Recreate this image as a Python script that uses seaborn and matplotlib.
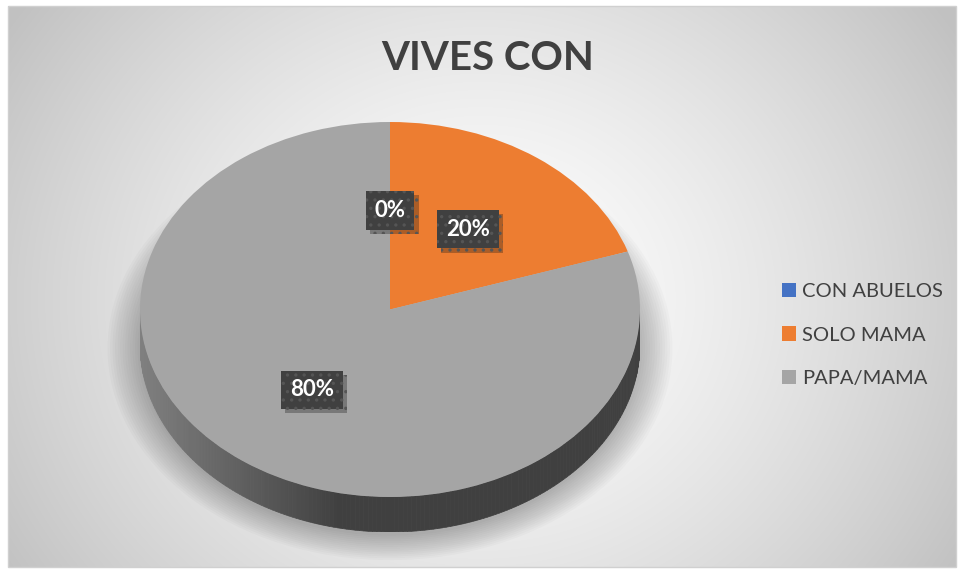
import matplotlib
matplotlib.use("Agg")
import matplotlib.pyplot as plt
import matplotlib.patheffects as pe
from matplotlib.patches import Polygon, Ellipse
import seaborn as sns
import numpy as np

sns.set_style("white")
plt.rcParams['font.family'] = ['Lato', 'DejaVu Sans']
plt.rcParams['hatch.linewidth'] = 1.2

# data
categories = ["CON ABUELOS", "SOLO MAMA", "PAPA/MAMA"]
values = [0, 20, 80]
colors = ["#4472C4", "#ED7D31", "#A5A5A5"]
title = "VIVES CON"

W, H = 963, 578
fig = plt.figure(figsize=(W / 100, H / 100), dpi=100)
fig.patch.set_facecolor("white")

# background: radial gradient inside the chart frame
bg = fig.add_axes([0, 0, 1, 1])
bg.set_xlim(0, W)
bg.set_ylim(H, 0)
bg.axis("off")
yy, xx = np.mgrid[6:567, 8:956]
r = np.hypot((xx - 480) / 1.0, (yy - 300) / 0.9)
g = 1 - 0.24 * np.clip(r / 560, 0, 1) ** 1.4
bg.imshow(np.dstack([g, g, g]), extent=(8, 956, 567, 6), aspect="auto", zorder=0)
bg.add_patch(plt.Rectangle((8, 6), 948, 561, fill=False, ec="#d0d0d0", lw=1))
bg.text(488, 58, title, ha="center", va="center", fontsize=29, fontweight="bold", color="#404040")

# pie axes: ellipse 140..640 x 122..497, depth down to 532
depth = 35 / 187.5
ax = fig.add_axes([140 / W, (H - 532) / H, 500 / W, 410 / H])
wedges, texts, autotexts = ax.pie(values, colors=colors, startangle=90, counterclock=False,
                                  autopct="%1.0f%%", pctdistance=0.53,
                                  wedgeprops=dict(linewidth=0), textprops=dict(color="white"))
ax.set_aspect("auto")
ax.set_xlim(-1, 1)
ax.set_ylim(-1 - depth, 1)
for w in wedges:
    w.set_zorder(3)

# soft shadow under the pie
for k in range(14):
    s = 1 + 0.01 * k
    ax.add_patch(Ellipse((0, -depth - 0.02), 2 * s, 2 * s, fc="black", alpha=0.018,
                         lw=0, zorder=1, clip_on=False))

# visible side of the cylinder (front half, belongs to the big slice)
t = np.linspace(np.pi, 2 * np.pi, 181)
side_light = np.array([0x80, 0x80, 0x80]) / 255
side_dark = np.array([0x40, 0x40, 0x40]) / 255
for a0, a1 in zip(t[:-1], t[1:]):
    xm = np.cos((a0 + a1) / 2)
    f = np.clip((xm + 1) / 0.8, 0, 1)
    c = side_light * (1 - f) + side_dark * f
    xs = [np.cos(a0), np.cos(a1), np.cos(a1), np.cos(a0)]
    ys = [np.sin(a0), np.sin(a1), np.sin(a1) - depth, np.sin(a0) - depth]
    ax.add_patch(Polygon(list(zip(xs, ys)), closed=True, fc=c, ec=c, lw=0.5, zorder=2))

for at in autotexts:
    at.set_fontsize(16)
    at.set_fontweight("bold")
    at.set_zorder(6)
    at.set_bbox(dict(boxstyle="square,pad=0.4", fc="#404040", ec="#555555", lw=0, hatch=".."))
    at.get_bbox_patch().set_path_effects([pe.SimplePatchShadow(offset=(3, -3), alpha=0.3), pe.Normal()])

leg = fig.legend(wedges, categories, loc="center left", bbox_to_anchor=(774 / W, 1 - 335 / H),
                 frameon=False, fontsize=14.5, handlelength=0.7, handleheight=0.7,
                 handletextpad=0.3, labelspacing=1.3, borderaxespad=0)
for txt in leg.get_texts():
    txt.set_color("#404040")

fig.savefig("out.png", dpi=100, facecolor="white")
